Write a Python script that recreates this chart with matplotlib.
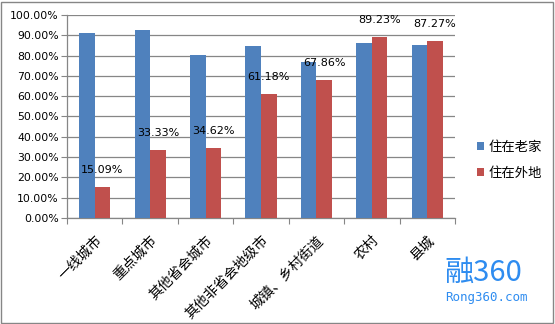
import numpy as np
import matplotlib.pyplot as plt
from matplotlib.patches import Rectangle

plt.rcParams['font.family'] = ['DejaVu Sans', 'Noto Sans CJK SC']

categories = ['一线城市', '重点城市', '其他省会城市', '其他非省会地级市', '城镇、乡村街道', '农村', '县城']
laojia = [91.1, 92.6, 80.3, 84.7, 77.0, 86.4, 85.4]
waidi = [15.09, 33.33, 34.62, 61.18, 67.86, 89.23, 87.27]
series_names = ['住在老家', '住在外地']

blue = '#4f81bd'
red = '#c0504d'
grid_c = '#868686'

fig = plt.figure(figsize=(5.55, 3.24), dpi=100)
ax = fig.add_axes([67/555, 1 - 218/324, (455-67)/555, (218-15)/324])

x = np.arange(len(categories))
w = 0.28
ax.bar(x - w/2, laojia, w, color=blue, label=series_names[0], zorder=3)
bars = ax.bar(x + w/2, waidi, w, color=red, label=series_names[1], zorder=3)

for b, v in zip(bars, waidi):
    ax.annotate(f'{v:.2f}%', (b.get_x() + b.get_width()/2, v), xytext=(0, 12),
                textcoords='offset pixels', ha='center', va='bottom', fontsize=8, zorder=4)

ax.set_xlim(-0.5, len(categories) - 0.5)
ax.set_ylim(0, 100)
ax.set_yticks(np.arange(0, 101, 10))
ax.set_yticklabels([f'{v:.2f}%' for v in range(0, 101, 10)], fontsize=7.8)
ax.yaxis.grid(True, color=grid_c, lw=0.9, zorder=0)
ax.set_xticks(np.arange(-0.5, len(categories), 1))
ax.set_xticklabels([])
ax.set_xticks(x, minor=True)
ax.set_xticklabels(categories, minor=True, rotation=45, ha='right', rotation_mode='anchor',
                   fontsize=10, family=['Noto Sans CJK SC'])
ax.tick_params(axis='x', which='minor', length=0, pad=11)
ax.tick_params(axis='x', which='major', length=4, color=grid_c, direction='out')
ax.tick_params(axis='y', length=4, color=grid_c, direction='out', pad=2)
for s in ['top', 'right']:
    ax.spines[s].set_visible(False)
for s in ['left', 'bottom']:
    ax.spines[s].set_color(grid_c)
    ax.spines[s].set_linewidth(0.9)

leg = fig.legend(loc='center left', bbox_to_anchor=(465/555, 1 - 160/324), frameon=False,
                 prop={'family': 'Noto Sans CJK SC', 'size': 9.6}, handlelength=0.5,
                 handleheight=0.5, handletextpad=0.4, labelspacing=0.9)

# logo
fig.text(444/555, 1 - 273/324, '融360', color='#2e8cf0', fontsize=21,
         va='center', ha='left', family=['Noto Sans CJK SC'])
fig.text(445/555, 1 - 297/324, 'Rong360.com', color='#2e8cf0', fontsize=9,
         va='center', ha='left', family=['DejaVu Sans Mono'])

fig.patches.append(Rectangle((1/555, 1/324), 552/555, 321/324, transform=fig.transFigure,
                             fill=False, edgecolor=grid_c, lw=1))

fig.savefig('out.png', dpi=100)
